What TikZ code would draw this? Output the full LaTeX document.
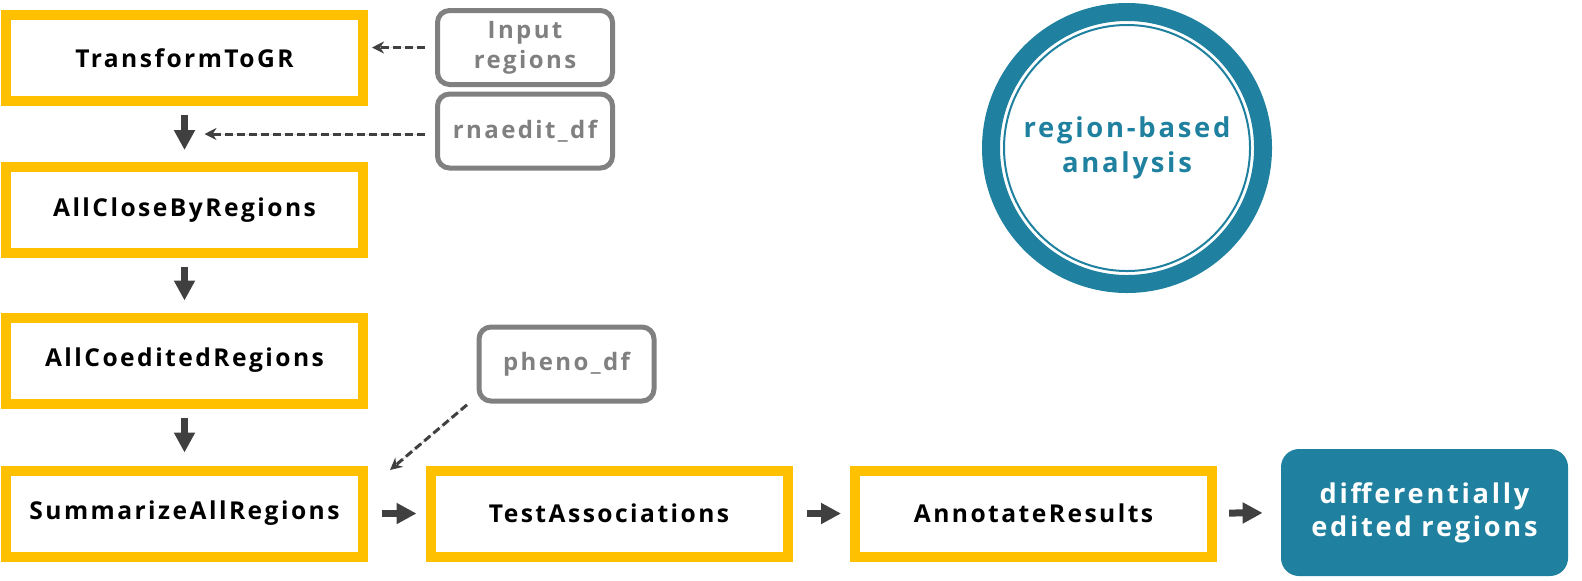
\documentclass[tikz,border=0pt]{standalone}
\usepackage{fontspec}
\setmainfont{Open Sans}[LetterSpace=10]
\usepackage{xcolor}
\usetikzlibrary{arrows.meta, calc}
\definecolor{boxyellow}{RGB}{255,192,0}
\definecolor{tealblue}{RGB}{31,129,159}
\definecolor{framegray}{RGB}{128,128,128}
\definecolor{arrowgray}{RGB}{64,64,64}

\begin{document}
\begin{tikzpicture}[
			x = 0.5pt, y = -0.5pt, % one unit is one pixel of the sketch
			stepbox/.style = {draw=boxyellow, line width=5pt, minimum width=178.5pt,
				minimum height=43pt, inner sep=0pt, font=\bfseries\fontsize{12.3}{14}\selectfont},
			inbox/.style = {draw=framegray, line width=2.5pt, rounded corners=6pt,
				minimum width=87.5pt, minimum height=37pt, inner sep=0pt, text=framegray,
				align=center, font=\bfseries\fontsize{12}{15}\selectfont},
			resbox/.style = {fill=tealblue, rounded corners=9pt, minimum width=143.5pt,
				minimum height=63.5pt, text=white, align=center,
				font=\bfseries\fontsize{13.6}{16.5}\selectfont},
			bigarrow/.style = {-{Triangle[length=10pt, width=10pt]}, draw=arrowgray,
				fill=arrowgray, line width=3.5pt},
			dasharrow/.style = {-{Stealth[length=6pt, width=6pt]}, draw=arrowgray,
				fill=arrowgray, line width=1.5pt, dash pattern=on 4pt off 2pt},
		]
		\useasboundingbox (0,0) rectangle (1582,580);
		% steps of the workflow
		\node[stepbox] (tg) at (184.5, 58){TransformToGR};
		\node[stepbox] (acr) at (184.5, 210){AllCloseByRegions};
		\node[stepbox] (acer) at (184.5, 360.5){AllCoeditedRegions};
		\node[stepbox] (sar) at (184.5, 513.5){SummarizeAllRegions};
		\node[stepbox] (ta) at (609, 513.5){TestAssociations};
		\node[stepbox] (ar) at (1033.5, 513.5){AnnotateResults};
		% inputs
		\node[inbox] (inreg) at (525, 47.5){Input\\regions};
		\node[inbox] (rdf) at (525, 131){rnaedit\_df};
		\node[inbox] (pdf) at (566.5, 364){pheno\_df};
		% result
		\node[resbox] (der) at (1424.5, 512.5){differentially\\edited regions};
		\node[circle, draw=tealblue, line width=9pt, minimum size=136pt, inner sep=0pt,
			text=tealblue, align=center, font=\bfseries\fontsize{13.7}{17.5}\selectfont]
			(rba) at (1127, 148){region-based\\analysis};
		\draw[tealblue, line width=1pt] (rba.center) circle [radius=61.5pt];
		% where the inputs come in
		\coordinate (j1) at ($(tg.south)!0.5!(acr.north)$);
		\coordinate (j2) at (390, 470);
		\draw[bigarrow, shorten <=4.5pt, shorten >=6pt] (tg) -- (acr);
		\draw[bigarrow, shorten <=4.5pt, shorten >=6pt] (acr) -- (acer);
		\draw[bigarrow, shorten <=4.5pt, shorten >=6.5pt] (acer) -- (sar);
		\draw[bigarrow, shorten <=7pt, shorten >=4.5pt] (sar) -- (ta);
		\draw[bigarrow, shorten <=7pt, shorten >=4.5pt] (ta) -- (ar);
		\draw[bigarrow, shorten <=6pt, shorten >=9pt] (ar) -- (der);
		\draw[dasharrow, shorten <=5pt, shorten >=2pt] (inreg.west) -- (tg.east |- inreg.west);
		\draw[dasharrow, shorten <=5pt, shorten >=10pt] (rdf.west |- j1) -- (j1);
		\draw[dasharrow, shorten <=1pt] ([xshift=-4pt]pdf.south west) -- (j2);
		\end{tikzpicture}
\end{document}
